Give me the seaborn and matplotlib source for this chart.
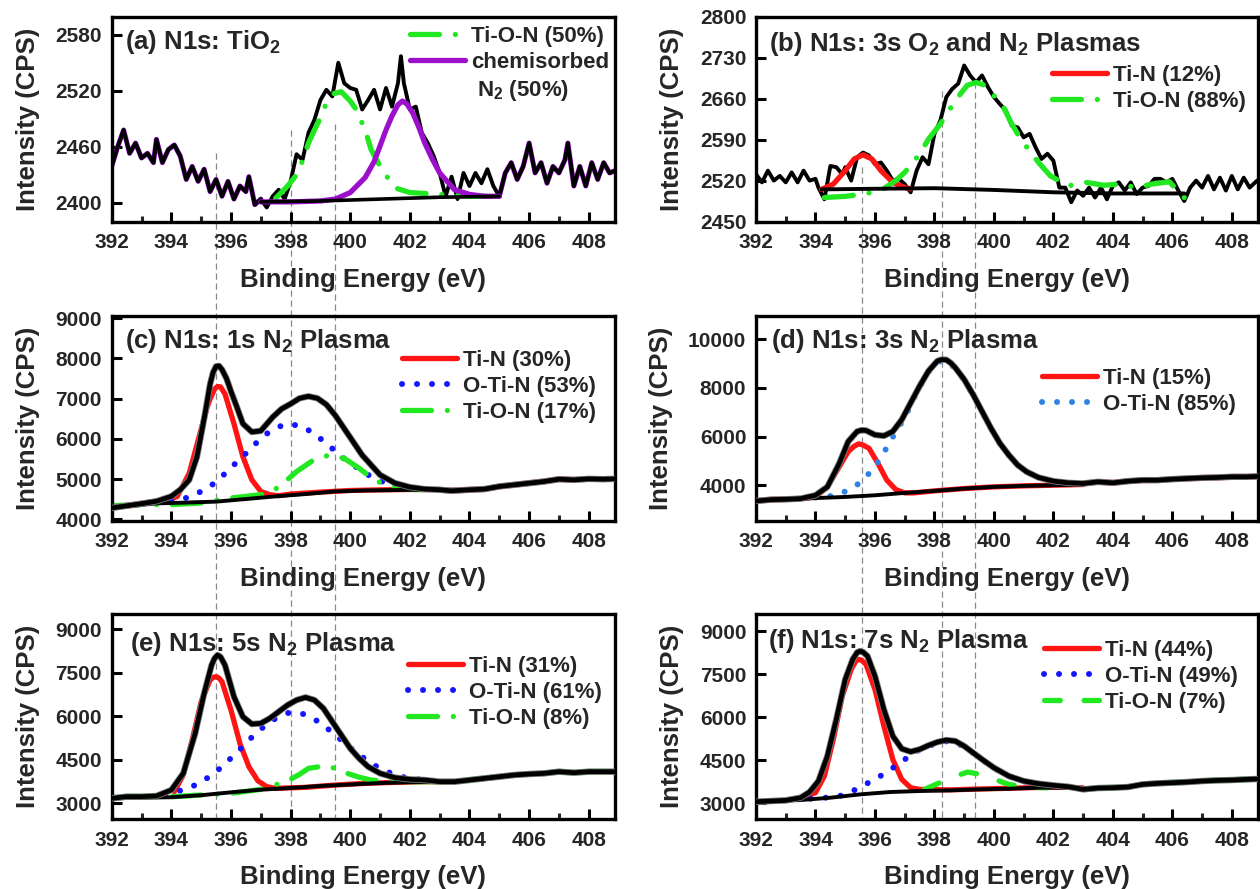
import matplotlib
matplotlib.use("Agg")
import numpy as np
import pandas as pd
import matplotlib.pyplot as plt
import seaborn as sns
from matplotlib.lines import Line2D
from matplotlib.ticker import MultipleLocator

# ---------------- data ----------------
# (a) N1s: TiO2
A_DATA_X = [392.0, 392.2, 392.4, 392.6, 392.8, 393.0, 393.2, 393.4, 393.5, 393.7, 393.9,
            394.1, 394.3, 394.5, 394.7, 394.9, 395.1, 395.3, 395.5, 395.7, 395.9, 396.1, 396.3, 396.5,
            396.6, 396.8, 397.0, 397.2, 397.4, 397.6, 397.8, 398.0, 398.2, 398.4, 398.6, 398.8,
            399.0, 399.2, 399.4, 399.6, 399.8, 400.0, 400.2, 400.4, 400.6, 400.8, 401.0, 401.2,
            401.4, 401.6, 401.7, 401.8, 402.0, 402.2, 402.4, 402.6, 402.8, 403.0, 403.2, 403.4,
            403.6, 403.8, 404.0, 404.2, 404.4, 404.6, 404.8, 405.0, 405.2, 405.4, 405.6, 405.8,
            406.0, 406.2, 406.4, 406.6, 406.8, 407.0, 407.2, 407.3, 407.5, 407.7, 407.9, 408.1,
            408.3, 408.5, 408.7, 408.85]
A_DATA_Y = [2439, 2460, 2478, 2453, 2464, 2448, 2453, 2443, 2468, 2443, 2457,
            2462, 2450, 2425, 2439, 2423, 2436, 2412, 2425, 2407, 2423, 2404, 2418, 2412,
            2428, 2398, 2404, 2395, 2407, 2414, 2404, 2423, 2452, 2446, 2475, 2489,
            2510, 2521, 2514, 2550, 2528, 2523, 2521, 2500, 2510, 2521, 2500, 2523,
            2503, 2528, 2557, 2528, 2500, 2503, 2475, 2464, 2450, 2432, 2407, 2428,
            2404, 2432, 2418, 2432, 2421, 2436, 2418, 2407, 2432, 2443, 2425, 2439,
            2464, 2432, 2443, 2421, 2439, 2432, 2446, 2464, 2418, 2439, 2418, 2443,
            2425, 2443, 2432, 2434]
A_BG_X = [397.0, 399.0, 401.0, 403.0, 405.0]
A_BG_Y = [2401, 2402, 2404, 2406, 2407]
A_TION_X = [397.5, 397.9, 398.2, 398.4, 398.6, 398.8, 399.0, 399.2, 399.45, 399.7, 400.0, 400.2,
            400.5, 400.7, 400.9, 401.1, 401.5, 402.0, 403.0, 404.0, 405.0]
A_TION_Y = [2405, 2418, 2430, 2445, 2464, 2478, 2491, 2507, 2517, 2519, 2509, 2500,
            2478, 2457, 2445, 2434, 2416, 2411, 2409, 2407, 2407]
A_CHEM_X = [397.0, 398.0, 399.0, 399.5, 400.0, 400.5, 400.8, 401.0, 401.2, 401.4, 401.6, 401.75,
            401.9, 402.1, 402.3, 402.5, 402.75, 403.0, 403.5, 404.0, 404.5, 405.0]
A_CHEM_Y = [2401, 2401, 2402, 2404, 2411, 2427, 2444, 2461, 2478, 2493, 2505, 2509,
            2506, 2496, 2481, 2464, 2447, 2432, 2414, 2409, 2407, 2407]

# (b) N1s: 3s O2 and N2 plasmas
B_DATA_X = [392.0, 392.2, 392.4, 392.6, 392.8, 393.0, 393.2, 393.4, 393.6, 393.8, 394.0,
            394.1, 394.3, 394.5, 394.7, 394.9,
            395.0, 395.2, 395.4, 395.6, 395.8, 396.0, 396.2, 396.4, 396.6, 396.8, 397.0, 397.2,
            397.4, 397.6, 397.8, 398.0, 398.2, 398.4, 398.6, 398.8, 399.0, 399.2, 399.4, 399.6,
            399.8, 400.0, 400.2, 400.4, 400.6, 400.8, 401.0, 401.2, 401.4, 401.6, 401.8, 402.0,
            402.2, 402.4, 402.6, 402.8, 403.0, 403.2, 403.4, 403.6, 403.8, 404.0, 404.2, 404.4,
            404.6, 404.8, 405.0, 405.2, 405.4, 405.6, 405.8, 406.0, 406.2, 406.4, 406.6, 406.8,
            407.0, 407.2, 407.4, 407.6, 407.8, 408.0, 408.2, 408.4, 408.6, 408.85]
B_DATA_Y = [2531, 2517, 2537, 2520, 2528, 2517, 2534, 2517, 2537, 2520, 2523,
            2508, 2488, 2545, 2543, 2531,
            2543, 2520, 2560, 2568, 2563, 2548, 2551, 2537, 2520, 2523, 2514, 2500,
            2537, 2560, 2548, 2600, 2623, 2663, 2677, 2686, 2717, 2700, 2688, 2700,
            2680, 2663, 2651, 2640, 2614, 2611, 2594, 2600, 2577, 2557, 2566, 2554,
            2508, 2508, 2483, 2503, 2494, 2508, 2491, 2508, 2488, 2511, 2517, 2503,
            2517, 2497, 2508, 2511, 2523, 2523, 2517, 2523, 2503, 2485, 2508, 2520,
            2508, 2528, 2505, 2525, 2503, 2528, 2505, 2525, 2508, 2520]
B_BG_X = [394.2, 396.0, 398.0, 400.0, 402.0, 404.0, 406.4]
B_BG_Y = [2505, 2506, 2507, 2504, 2500, 2498, 2498]
B_TIN_X = [394.2, 394.6, 395.0, 395.3, 395.6, 395.9, 396.2, 396.6, 397.0, 397.2]
B_TIN_Y = [2505, 2514, 2537, 2557, 2564, 2557, 2537, 2517, 2508, 2506]
B_TION_X = [394.3, 395.0, 395.6, 396.2, 396.7, 397.0, 397.5, 397.8, 398.2, 398.7, 399.1, 399.4,
            399.7, 400.3, 400.6, 400.9, 401.5, 401.9, 402.5, 403.1, 403.7, 404.2, 404.8, 405.3,
            405.9, 406.4]
B_TION_Y = [2491, 2493, 2497, 2503, 2520, 2534, 2565, 2591, 2617, 2657, 2683, 2688,
            2683, 2648, 2617, 2591, 2551, 2528, 2511, 2517, 2512, 2514, 2508, 2514,
            2518, 2491]

# (c) N1s: 1s N2 plasma
C_DATA_X = [392.0, 393.0, 393.5, 394.0, 394.3, 394.6, 394.86, 395.13, 395.3, 395.4, 395.5, 395.6,
            395.7, 395.85, 396.0, 396.2, 396.4, 396.7, 397.0, 397.4, 397.7, 398.0, 398.3, 398.6,
            398.9, 399.2, 399.5, 399.8, 400.1, 400.4, 400.7, 401.0, 401.5, 402.0, 402.5, 403.0,
            403.4, 404.0, 404.5, 405.0, 405.5, 406.0, 406.5, 407.0, 407.5, 408.0, 408.5, 408.85]
C_DATA_Y = [4287, 4393, 4451, 4574, 4740, 4984, 5557, 6623, 7361, 7650, 7800, 7811,
            7720, 7500, 7180, 6787, 6377, 6172, 6200, 6541, 6746, 6869, 7008, 7057,
            7008, 6852, 6582, 6254, 5926, 5598, 5352, 5107, 4902, 4803, 4754, 4738,
            4713, 4738, 4754, 4820, 4861, 4902, 4943, 5000, 4984, 5008, 5000, 5008]
C_BG_X = [392.0, 393.5, 394.5, 395.5, 396.5, 397.5, 398.5, 399.5, 400.5, 401.5, 402.5, 403.5]
C_BG_Y = [4287, 4400, 4420, 4443, 4508, 4574, 4631, 4697, 4721, 4730, 4738, 4738]
C_TIN_X = [393.8, 394.2, 394.6, 394.9, 395.2, 395.3, 395.45, 395.55, 395.65, 395.8, 396.1, 396.4,
           396.7, 397.0, 397.3, 397.6, 398.0, 399.0, 400.0, 401.0, 402.0, 403.0]
C_TIN_Y = [4451, 4574, 5148, 5967, 6787, 6990, 7238, 7300, 7290, 7115, 6377, 5557,
           4984, 4697, 4615, 4590, 4631, 4680, 4720, 4735, 4745, 4745]
C_OTIN_X = [393.5, 394.0, 394.4, 394.83, 395.27, 395.64, 396.0, 396.39, 396.72, 397.05, 397.4,
            397.8, 398.3, 398.75, 399.12, 399.5, 399.85, 400.26, 400.64, 401.07, 401.47, 402.0,
            402.5, 403.0]
C_OTIN_Y = [4426, 4492, 4508, 4631, 4803, 5025, 5287, 5557, 5803, 6049, 6230,
            6361, 6336, 6156, 5934, 5697, 5475, 5271, 5090, 4943, 4844, 4779,
            4754, 4738]
C_TION_X = [392.0, 393.0, 394.0, 395.0, 396.0, 397.0, 397.6, 398.2, 398.8, 399.3, 399.8, 400.3,
            400.8, 401.3, 401.8, 402.5, 403.0]
C_TION_Y = [4344, 4369, 4369, 4410, 4533, 4615, 4795, 5189, 5492, 5598, 5516, 5271,
            4984, 4820, 4754, 4738, 4738]

# (d) N1s: 3s N2 plasma
D_DATA_X = [392.0, 392.5, 393.0, 393.5, 394.0, 394.4, 394.8, 395.1, 395.4, 395.55, 395.7, 396.0,
            396.3, 396.6, 396.9, 397.2, 397.5, 397.8, 398.1, 398.25, 398.4, 398.55, 398.7, 399.0,
            399.3, 399.6, 399.9, 400.2, 400.5, 400.8, 401.1, 401.5, 402.0, 402.5, 403.0, 403.5,
            404.0, 404.5, 405.0, 405.5, 406.0, 406.5, 407.0, 407.5, 408.0, 408.5, 408.85]
D_DATA_Y = [3352, 3407, 3421, 3448, 3586, 3931, 4896, 5793, 6206, 6260, 6248, 6069,
            6027, 6206, 6690, 7379, 8068, 8689, 9103, 9160, 9150, 9020, 8827, 8344,
            7723, 7034, 6344, 5724, 5241, 4827, 4552, 4317, 4165, 4097, 4069, 4138,
            4097, 4165, 4207, 4207, 4248, 4276, 4303, 4317, 4345, 4345, 4360]
D_BG_X = [392.0, 393.5, 395.0, 396.0, 397.0, 398.0, 399.0, 400.0, 401.0, 402.0, 403.0]
D_BG_Y = [3352, 3448, 3517, 3586, 3683, 3766, 3862, 3931, 3972, 4000, 4028]
D_TIN_X = [393.6, 394.0, 394.4, 394.8, 395.1, 395.3, 395.45, 395.6, 395.8, 396.1, 396.4, 396.7,
           397.0, 397.3, 398.0, 399.0, 400.0, 401.0, 402.0, 403.0]
D_TIN_Y = [3448, 3517, 3931, 4758, 5379, 5600, 5696, 5650, 5517, 4896, 4207, 3821,
           3683, 3683, 3766, 3862, 3931, 3972, 4000, 4028]
D_OTIN_X = [394.0, 394.38, 394.85, 395.32, 395.72, 396.02, 396.26, 396.5, 396.73, 397.0, 397.2,
            397.5, 397.8, 398.1, 398.4, 398.7, 399.0, 399.3, 399.6, 399.9, 400.2, 400.5, 400.8,
            401.1, 401.5, 402.0, 402.5, 403.0]
D_OTIN_Y = [3490, 3517, 3655, 3931, 4372, 4800, 5269, 5751, 6276, 6750, 7300,
            8030, 8650, 9070, 9120, 8800, 8320, 7700, 7010, 6330, 5710, 5230, 4820,
            4545, 4310, 4160, 4090, 4060]

# (e) N1s: 5s N2 plasma
E_DATA_X = [392.0, 392.5, 393.0, 393.5, 394.0, 394.4, 394.8, 395.1, 395.35, 395.45, 395.55,
            395.65, 395.8, 396.1, 396.4, 396.7, 397.0, 397.3, 397.6, 397.9, 398.2, 398.5, 398.8,
            399.1, 399.4, 399.7, 400.0, 400.3, 400.6, 401.0, 401.5, 402.0, 402.5, 403.0, 403.5,
            404.0, 404.5, 405.0, 405.5, 406.0, 406.5, 407.0, 407.5, 408.0, 408.5, 408.85]
E_DATA_Y = [3172, 3230, 3230, 3253, 3460, 4034, 5413, 6792, 7768, 8000, 8113,
            8050, 7768, 6677, 5987, 5735, 5758, 5930, 6160, 6390, 6562, 6654, 6562,
            6275, 5815, 5355, 4896, 4551, 4264, 4034, 3885, 3827, 3804, 3747, 3747,
            3804, 3862, 3919, 3977, 4011, 4034, 4092, 4057, 4092, 4092, 4092]
E_BG_X = [392.0, 393.0, 394.0, 395.0, 396.0, 397.0, 398.0, 399.0, 400.0, 401.0, 402.0, 403.0, 403.5]
E_BG_Y = [3172, 3195, 3210, 3280, 3380, 3470, 3530, 3600, 3650, 3700, 3730, 3747, 3747]
E_TIN_X = [394.1, 394.4, 394.7, 395.0, 395.3, 395.4, 395.5, 395.6, 395.7, 396.0, 396.3, 396.6,
           396.9, 397.2, 397.5, 398.5, 399.5, 400.5, 401.5, 402.5, 403.5]
E_TIN_Y = [3402, 3977, 5183, 6505, 7251, 7340, 7370, 7320, 7194, 6217, 5068, 4264,
           3781, 3575, 3517, 3552, 3632, 3689, 3724, 3747, 3747]
E_OTIN_X = [393.8, 394.48, 394.93, 395.36, 395.77, 396.1, 396.45, 396.79, 397.13, 397.5, 397.94,
            398.44, 398.9, 399.3, 399.7, 400.07, 400.47, 400.84, 401.24, 401.6, 402.0, 402.5, 403.0]
E_OTIN_Y = [3322, 3483, 3689, 3977, 4321, 4666, 5011, 5378, 5666, 5930, 6125,
            6079, 5838, 5528, 5183, 4861, 4551, 4298, 4092, 3942, 3862, 3804, 3760]
E_TION_X = [392.0, 394.0, 396.0, 397.0, 397.5, 397.9, 398.3, 398.6, 399.0, 399.3, 399.6, 399.9,
            400.3, 400.7, 401.2, 402.0, 403.0]
E_TION_Y = [3200, 3230, 3345, 3483, 3640, 3781, 4000, 4206, 4270, 4280, 4150, 4034,
            3900, 3804, 3750, 3747, 3747]

# (f) N1s: 7s N2 plasma
F_DATA_X = [392.0, 393.0, 393.5, 393.8, 394.1, 394.4, 394.7, 395.0, 395.25, 395.4, 395.5, 395.6,
            395.75, 396.0, 396.3, 396.6, 396.9, 397.2, 397.5, 397.8, 398.1, 398.4, 398.7, 399.0,
            399.3, 399.6, 400.0, 400.5, 401.0, 401.5, 402.0, 402.5, 403.0, 403.5, 404.0, 404.5,
            405.0, 405.5, 406.0, 406.5, 407.0, 407.5, 408.0, 408.5, 408.85]
F_DATA_Y = [3058, 3104, 3197, 3395, 3778, 4649, 5926, 7319, 8015, 8260, 8306, 8270,
            8132, 7435, 6274, 5345, 4904, 4800, 4881, 5020, 5136, 5206, 5171, 4997,
            4765, 4533, 4242, 3952, 3778, 3685, 3627, 3580, 3488, 3534, 3546, 3569,
            3662, 3697, 3720, 3743, 3778, 3801, 3813, 3836, 3850]
F_BG_X = [392.0, 393.5, 394.5, 395.5, 396.5, 397.5, 398.5, 399.5, 400.5, 401.5, 402.5, 403.0]
F_BG_Y = [3058, 3116, 3197, 3313, 3395, 3430, 3453, 3488, 3511, 3546, 3546, 3511]
F_TIN_X = [393.5, 394.0, 394.3, 394.6, 394.9, 395.2, 395.35, 395.45, 395.55, 395.7, 396.0, 396.3,
           396.6, 396.9, 397.2, 397.5, 398.5, 399.5, 400.5, 401.5, 402.5, 403.0]
F_TIN_Y = [3180, 3372, 3952, 5229, 6738, 7667, 7950, 8020, 7990, 7841, 6971, 5694,
           4533, 3836, 3546, 3488, 3470, 3500, 3525, 3555, 3560, 3540]
F_OTIN_X = [393.84, 394.34, 394.81, 395.25, 395.68, 396.13, 396.56, 396.94, 397.3, 397.7, 398.1,
            398.5, 399.0, 399.5, 400.0, 400.5, 401.0, 401.5, 402.0, 402.5]
F_OTIN_Y = [3163, 3197, 3255, 3430, 3662, 3917, 4207, 4475, 4780, 4950, 5110,
            5180, 4990, 4600, 4230, 3945, 3770, 3680, 3620, 3575]
F_TION_X = [397.67, 398.0, 398.3, 398.55, 398.8, 399.12, 399.45, 399.77, 400.1, 400.5, 400.9,
            401.3, 401.8]
F_TION_Y = [3488, 3640, 3770, 3859, 3980, 4091, 4030, 3952, 3810, 3662, 3590, 3550, 3546]

# labels
TITLES = ["(a) N1s: TiO$_2$", "(b) N1s: 3s O$_2$ and N$_2$ Plasmas",
          "(c) N1s: 1s N$_2$ Plasma", "(d) N1s: 3s N$_2$ Plasma",
          "(e) N1s: 5s N$_2$ Plasma", "(f) N1s: 7s N$_2$ Plasma"]
X_TICKS = [392, 394, 396, 398, 400, 402, 404, 406, 408]
Y_TICKS = {
    "a": [2400, 2460, 2520, 2580],
    "b": [2450, 2520, 2590, 2660, 2730, 2800],
    "c": [4000, 5000, 6000, 7000, 8000, 9000],
    "d": [4000, 6000, 8000, 10000],
    "e": [3000, 4500, 6000, 7500, 9000],
    "f": [3000, 4500, 6000, 7500, 9000],
}
Y_LIMS = {"a": (2380, 2599), "b": (2450, 2800), "c": (3975, 9050),
          "d": (2550, 10950), "e": (2460, 9530), "f": (2455, 9600)}
GUIDE_LEFT = [395.5, 398.0, 399.5]
GUIDE_LEFT_START = [2453, 2478, 2484]
GUIDE_RIGHT = [395.55, 398.25, 399.35]
GUIDE_RIGHT_START = [2543, 2674, 2688]

# ---------------- style ----------------
sns.set_theme(style="ticks")
plt.rcParams.update({
    "font.family": ["Liberation Sans", "DejaVu Sans"],
    "font.weight": "bold",
    "axes.labelweight": "bold",
    "mathtext.fontset": "custom",
    "mathtext.rm": "Liberation Sans:bold",
    "mathtext.it": "Liberation Sans:bold:italic",
    "mathtext.bf": "Liberation Sans:bold",
    "mathtext.default": "rm",
    "axes.linewidth": 2.4,
    "axes.edgecolor": "black",
})

RED = "#ff1414"
GREEN = "#22e822"
BLUE = "#1414ff"
BLUE_D = "#2f82e4"
PURPLE = "#9c10cc"
DASHDOT = (0, (5.5, 3.0, 0.01, 3.0))
DOT = (0, (0.01, 2.5))
DASH = (0, (3.0, 4.5))
LW_C = 3.8

W, H = 1260, 889
fig = plt.figure(figsize=(12.6, 8.89), dpi=100)


def add_ax(left, top, width, height):
    ax = fig.add_axes([left / W, 1 - (top + height) / H, width / W, height / H])
    ax.set_facecolor("none")
    return ax


LEFT_L, LEFT_W = 111.7, 503.3
RIGHT_L, RIGHT_W = 756.0, 502.0
ROWS = [(17.0, 204.5), (316.0, 204.5), (614.0, 205.0)]

axes = {
    "a": add_ax(LEFT_L, ROWS[0][0], LEFT_W, ROWS[0][1]),
    "b": add_ax(RIGHT_L, ROWS[0][0], RIGHT_W, ROWS[0][1]),
    "c": add_ax(LEFT_L, ROWS[1][0], LEFT_W, ROWS[1][1]),
    "d": add_ax(RIGHT_L, ROWS[1][0], RIGHT_W, ROWS[1][1]),
    "e": add_ax(LEFT_L, ROWS[2][0], LEFT_W, ROWS[2][1]),
    "f": add_ax(RIGHT_L, ROWS[2][0], RIGHT_W, ROWS[2][1]),
}


def line(ax, x, y, color, lw, ls="-", label=None, z=2):
    if ls == DOT:
        lw = lw + 0.5
    kw = dict(x=np.asarray(x, float), y=np.asarray(y, float), ax=ax, color=color, lw=lw,
              linestyle=ls, estimator=None, sort=False, zorder=z,
              dash_capstyle="round", solid_capstyle="round", solid_joinstyle="round")
    if label is not None:
        kw["label"] = label
    sns.lineplot(**kw)


def slice_xy(x, y, lo, hi):
    x = np.asarray(x, float)
    y = np.asarray(y, float)
    m = (x >= lo) & (x <= hi)
    return x[m], y[m]


# (a)
ax = axes["a"]
line(ax, A_TION_X, A_TION_Y, GREEN, LW_C, DASHDOT, "Ti-O-N (50%)", z=4)
line(ax, A_CHEM_X, A_CHEM_Y, PURPLE, LW_C, "-", "chemisorbed", z=4)
for lo, hi in [(392, 397.0), (405.0, 409)]:
    sx, sy = slice_xy(A_DATA_X, A_DATA_Y, lo, hi)
    line(ax, sx, sy, PURPLE, 3.6, z=2)
line(ax, A_DATA_X, A_DATA_Y, "black", 2.8, z=3)
line(ax, A_BG_X, A_BG_Y, "black", 2.6, z=5)

# (b)
ax = axes["b"]
line(ax, B_TIN_X, B_TIN_Y, RED, LW_C, "-", "Ti-N (12%)", z=4)
line(ax, B_TION_X, B_TION_Y, GREEN, LW_C, DASHDOT, "Ti-O-N (88%)", z=4)
line(ax, B_DATA_X, B_DATA_Y, "black", 2.8, z=3)
line(ax, B_BG_X, B_BG_Y, "black", 2.8, z=5)


def fitted_panel(ax, data, bg, comps, fringe_color):
    for (cx, cy, col, ls, lab) in comps:
        line(ax, cx, cy, col, LW_C, ls, lab, z=2)
    for lo, hi in [(392, 393.6), (402.8, 409)]:
        sx, sy = slice_xy(data[0], data[1], lo, hi)
        line(ax, sx, sy, fringe_color, 4.2, z=2)
    line(ax, bg[0], bg[1], "black", 2.8, z=3)
    line(ax, data[0], data[1], "#7a7a7a", 4.6, z=3)
    line(ax, data[0], data[1], "black", 3.4, z=4)


fitted_panel(axes["c"], (C_DATA_X, C_DATA_Y), (C_BG_X, C_BG_Y),
             [(C_TIN_X, C_TIN_Y, RED, "-", "Ti-N (30%)"),
              (C_OTIN_X, C_OTIN_Y, BLUE, DOT, "O-Ti-N (53%)"),
              (C_TION_X, C_TION_Y, GREEN, DASHDOT, "Ti-O-N (17%)")], RED)
fitted_panel(axes["d"], (D_DATA_X, D_DATA_Y), (D_BG_X, D_BG_Y),
             [(D_TIN_X, D_TIN_Y, RED, "-", "Ti-N (15%)"),
              (D_OTIN_X, D_OTIN_Y, BLUE_D, DOT, "O-Ti-N (85%)")], RED)
fitted_panel(axes["e"], (E_DATA_X, E_DATA_Y), (E_BG_X, E_BG_Y),
             [(E_TIN_X, E_TIN_Y, RED, "-", "Ti-N (31%)"),
              (E_OTIN_X, E_OTIN_Y, BLUE, DOT, "O-Ti-N (61%)"),
              (E_TION_X, E_TION_Y, GREEN, DASHDOT, "Ti-O-N (8%)")], GREEN)
fitted_panel(axes["f"], (F_DATA_X, F_DATA_Y), (F_BG_X, F_BG_Y),
             [(F_TIN_X, F_TIN_Y, RED, "-", "Ti-N (44%)"),
              (F_OTIN_X, F_OTIN_Y, BLUE, DOT, "O-Ti-N (49%)"),
              (F_TION_X, F_TION_Y, GREEN, DASH, "Ti-O-N (7%)")], GREEN)

# axes formatting
TITLE_POS = {"a": (0.026, 0.946), "b": (0.026, 0.936), "c": (0.026, 0.946),
             "d": (0.030, 0.946), "e": (0.037, 0.922), "f": (0.024, 0.937)}
LEG_POS = {"a": (0.593, 0.956), "b": (0.590, 0.765), "c": (0.577, 0.834),
           "d": (0.570, 0.746), "e": (0.589, 0.795), "f": (0.574, 0.873)}

for key, title in zip("abcdef", TITLES):
    ax = axes[key]
    ax.set_xlim(392, 408.88)
    ax.set_ylim(*Y_LIMS[key])
    ax.set_xticks(X_TICKS)
    ax.xaxis.set_minor_locator(MultipleLocator(1))
    ax.set_yticks(Y_TICKS[key])
    ax.tick_params(axis="both", which="major", direction="in", length=7, width=2.2,
                   labelsize=15, top=False, right=False, color="black")
    ax.tick_params(axis="x", which="major", pad=8.5)
    ax.tick_params(axis="y", which="major", pad=7)
    ax.tick_params(axis="x", which="minor", direction="in", length=4, width=2.2,
                   top=False)
    for lab in ax.get_xticklabels() + ax.get_yticklabels():
        lab.set_fontweight("bold")
    for sp in ax.spines.values():
        sp.set_visible(True)
        sp.set_linewidth(2.4)
        sp.set_color("black")
    ax.set_xlabel("Binding Energy (eV)", fontsize=18.5, fontweight="bold", labelpad=11)
    ax.set_ylabel("Intensity (CPS)", fontsize=18.5, fontweight="bold", labelpad=11)
    tx, ty = TITLE_POS[key]
    ax.text(tx, ty, title, transform=ax.transAxes, ha="left", va="top",
            fontsize=18.5, fontweight="bold", zorder=10)

    handles, labels = ax.get_legend_handles_labels()
    if key == "a":
        handles = handles + [Line2D([], [], color="none")]
        labels = labels + [" N$_2$ (50%)"]
    lx, ly = LEG_POS[key]
    ax.legend(handles, labels, loc="upper left", bbox_to_anchor=(lx, ly),
              frameon=False, borderpad=0, borderaxespad=0, handlelength=2.45,
              handletextpad=0.3, labelspacing=0.22,
              prop={"weight": "bold", "size": 16})

# vertical guide lines spanning the columns
inv = fig.transFigure.inverted()


def fig_pt(ax, x, y):
    return inv.transform(ax.transData.transform((x, y)))


for top_key, bot_key, xs, starts in [("a", "e", GUIDE_LEFT, GUIDE_LEFT_START),
                                     ("b", "f", GUIDE_RIGHT, GUIDE_RIGHT_START)]:
    ta, ba = axes[top_key], axes[bot_key]
    for xv, yv in zip(xs, starts):
        p0 = fig_pt(ta, xv, yv)
        p1 = fig_pt(ba, xv, ba.get_ylim()[0])
        fig.add_artist(Line2D([p0[0], p1[0]], [p0[1], p1[1]], transform=fig.transFigure,
                              color="#8a8a8a", lw=0.9, linestyle=(0, (5, 3)), zorder=-1))

fig.savefig("out.png", dpi=100, facecolor="white")
